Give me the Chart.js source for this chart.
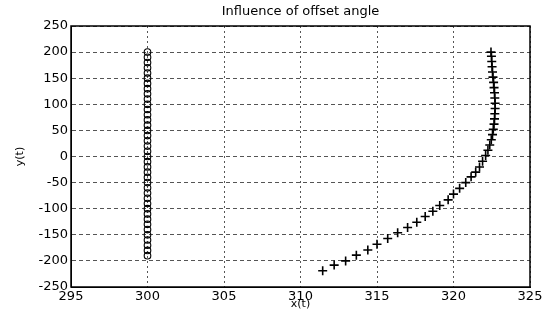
<!DOCTYPE html>
<html lang="en">
<head>
    <meta charset="UTF-8">
    <title>Influence of offset angle</title>
    <style>
        * {
            margin: 0;
            padding: 0;
            box-sizing: border-box;
        }

        body {
            background: #fff;
        }

        .chart-box {
            width: 553px;
            height: 321px;
        }
    </style>
    <!-- Chart.js CDN -->
    <script src="https://cdn.jsdelivr.net/npm/chart.js"></script>
</head>
<body>
    <div class="chart-box">
        <canvas id="offsetChart"></canvas>
    </div>

    <script>
        // circles: zero offset angle, straight vertical track
        const circleX = [300, 300, 300, 300, 300, 300, 300, 300, 300, 300,
                         300, 300, 300, 300, 300, 300, 300, 300, 300, 300,
                         300, 300, 300, 300, 300, 300, 300, 300, 300, 300,
                         300, 300, 300, 300, 300, 300, 300, 300, 300, 300];
        const circleY = [-190, -180, -170, -160, -150, -140, -130, -120, -110, -100,
                         -90, -80, -70, -60, -50, -40, -30, -20, -10, 0,
                         10, 20, 30, 40, 50, 60, 70, 80, 90, 100,
                         110, 120, 130, 140, 150, 160, 170, 180, 190, 200];

        // crosses: with offset angle, curved track
        const crossX = [311.45, 312.2, 312.95, 313.65, 314.4, 315.0, 315.7, 316.35, 317.0, 317.6,
                        318.15, 318.65, 319.1, 319.65, 320.0, 320.4, 320.8, 321.15, 321.45, 321.7,
                        321.9, 322.1, 322.25, 322.37, 322.47, 322.55, 322.6, 322.65, 322.68, 322.7,
                        322.72, 322.72, 322.7, 322.68, 322.65, 322.62, 322.58, 322.55, 322.52, 322.5,
                        322.48, 322.45];
        const crossY = [-219, -208, -200, -189, -179, -168, -157, -146, -136, -126,
                        -115, -105, -94, -83, -72, -61, -50, -39, -30, -20,
                        -9, 2, 12, 22, 32, 42, 52, 62, 72, 82,
                        92, 102, 112, 122, 132, 142, 152, 162, 172, 182,
                        192, 200];

        const xTicks = [295, 300, 305, 310, 315, 320, 325];
        const yTicks = [-250, -200, -150, -100, -50, 0, 50, 100, 150, 200, 250];
        const chartTitle = 'Influence of offset angle';

        const toPoints = (xs, ys) => xs.map((x, i) => ({ x: x, y: ys[i] }));

        // title over the plot area and a solid box round it
        const matlabLook = {
            id: 'matlabLook',
            afterDraw(chart) {
                const a = chart.chartArea;
                const c = chart.ctx;
                c.save();
                c.strokeStyle = '#000';
                c.lineWidth = 1.5;
                c.strokeRect(a.left, a.top, a.right - a.left, a.bottom - a.top);
                c.fillStyle = '#000';
                c.font = '13px "DejaVu Sans"';
                c.textAlign = 'center';
                c.textBaseline = 'middle';
                c.fillText(chartTitle, (a.left + a.right) / 2, 12);
                c.restore();
            }
        };

        const font = { family: 'DejaVu Sans', size: 13 };

        new Chart(document.getElementById('offsetChart'), {
            type: 'scatter',
            data: {
                datasets: [
                    {
                        label: 'no offset',
                        data: toPoints(circleX, circleY),
                        pointStyle: 'circle',
                        pointRadius: 3.3,
                        borderColor: '#000',
                        backgroundColor: 'rgba(255,255,255,0)',
                        borderWidth: 1.1
                    },
                    {
                        label: 'offset',
                        data: toPoints(crossX, crossY),
                        pointStyle: 'cross',
                        pointRadius: 4.5,
                        borderColor: '#000',
                        borderWidth: 1.6
                    }
                ]
            },
            options: {
                responsive: true,
                maintainAspectRatio: false,
                animation: false,
                layout: { padding: { left: 0, right: 23, top: 26, bottom: 0 } },
                plugins: {
                    legend: { display: false },
                    tooltip: { enabled: false },
                    title: { display: false }
                },
                scales: {
                    x: {
                        type: 'linear',
                        min: 295,
                        max: 325,
                        afterBuildTicks: s => { s.ticks = xTicks.map(v => ({ value: v })); },
                        afterFit: s => { s.height = 34; },
                        ticks: { color: '#000', font: font, padding: 2, maxRotation: 0 },
                        grid: { color: '#555', lineWidth: 1, drawTicks: false },
                        border: { display: true, color: '#000', width: 1, dash: [2, 3] },
                        title: {
                            display: true,
                            text: 'x(t)',
                            color: '#000',
                            font: { family: 'DejaVu Sans', size: 11 },
                            padding: { top: 0, bottom: 10.4 }
                        }
                    },
                    y: {
                        type: 'linear',
                        min: -250,
                        max: 250,
                        afterBuildTicks: s => { s.ticks = yTicks.map(v => ({ value: v })); },
                        afterFit: s => { s.width = 71; },
                        ticks: { color: '#000', font: font, padding: 3 },
                        grid: { color: '#555', lineWidth: 1, drawTicks: false },
                        border: { display: true, color: '#000', width: 1, dash: [4, 3] },
                        title: {
                            display: true,
                            text: 'y(t)',
                            color: '#000',
                            font: { family: 'DejaVu Sans', size: 11 },
                            padding: { top: 13.4, bottom: 0 }
                        }
                    }
                }
            },
            plugins: [matlabLook]
        });
    </script>
</body>
</html>
